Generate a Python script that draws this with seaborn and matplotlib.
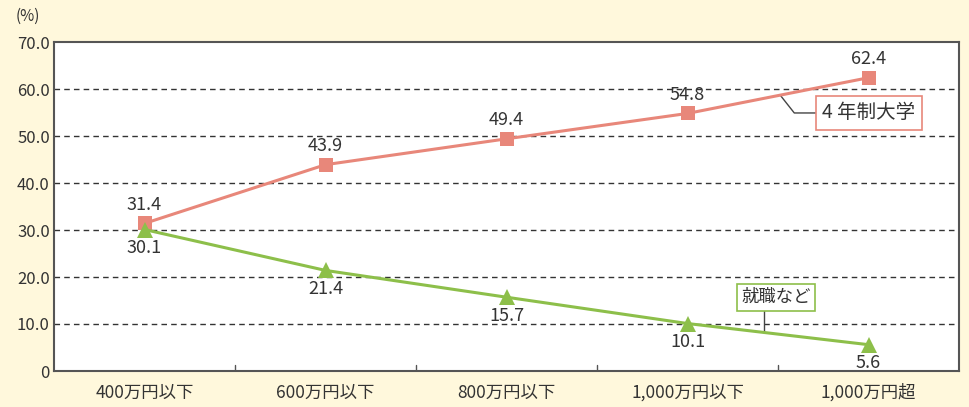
import matplotlib.pyplot as plt
import pandas as pd
import seaborn as sns

# data
categories = ["400万円以下", "600万円以下", "800万円以下", "1,000万円以下", "1,000万円超"]
univ = [31.4, 43.9, 49.4, 54.8, 62.4]
work = [30.1, 21.4, 15.7, 10.1, 5.6]

sns.set_style("white")
plt.rcParams['font.family'] = ['Noto Sans CJK JP', 'DejaVu Sans']

bg = "#fff8dc"
pink = "#e8877a"
green = "#8dbf4a"
spine = "#555555"

df = pd.DataFrame({"x": range(len(categories)), "univ": univ, "work": work})

fig = plt.figure(figsize=(9.69, 4.07), dpi=100, facecolor=bg)
ax = fig.add_axes([54 / 969, 1 - 371 / 407, 905 / 969, 329 / 407])
ax.set_facecolor("white")

sns.lineplot(data=df, x="x", y="univ", ax=ax, color=pink, linewidth=2.2,
             marker="s", markersize=10, markeredgewidth=0, zorder=3)
sns.lineplot(data=df, x="x", y="work", ax=ax, color=green, linewidth=2.2,
             marker="^", markersize=11, markeredgewidth=0, zorder=3)

ax.set_xlim(-0.5, 4.5)
ax.set_ylim(0, 70)
ax.set_yticks(range(0, 71, 10))
ax.set_yticklabels(["0"] + [f"{v:.1f}" for v in range(10, 71, 10)], fontsize=12, color="#333333")
ax.set_xticks(range(5))
ax.set_xticklabels(categories, fontsize=12.5, color="#333333")
ax.tick_params(axis="x", length=0, pad=9)
ax.tick_params(axis="y", length=0, pad=3)
ax.set_xlabel("")
ax.set_ylabel("")

# boundary ticks on the x axis
for b in [0.5, 1.5, 2.5, 3.5]:
    ax.plot([b, b], [0, 1.2], color=spine, linewidth=1, zorder=2)

for y in range(10, 70, 10):
    ax.axhline(y, color="#333333", linestyle=(0, (4, 3)), linewidth=1, zorder=1)

for s in ax.spines.values():
    s.set_color(spine)
    s.set_linewidth(1.5)

# value labels
for i, v in enumerate(univ):
    ax.annotate(f"{v:.1f}", (i, v), xytext=(0, 7), textcoords="offset points",
                ha="center", va="bottom", fontsize=13, color="#333333")
for i, v in enumerate(work):
    ax.annotate(f"{v:.1f}", (i, v), xytext=(0, -7), textcoords="offset points",
                ha="center", va="top", fontsize=13, color="#333333")

# callouts
ax.plot([3.51, 3.59, 3.73], [58.8, 54.9, 54.9], color="#444444", linewidth=1, zorder=2)
ax.text(3.745, 54.9, "4 年制大学", ha="left", va="center", fontsize=14, color="#333333",
        bbox=dict(boxstyle="square,pad=0.35", fc="white", ec=pink, lw=1.2), zorder=4)
ax.plot([3.42, 3.42], [8.2, 13.0], color="#444444", linewidth=1, zorder=2)
ax.text(3.49, 15.7, "就職など", ha="center", va="center", fontsize=12.5, color="#333333",
        bbox=dict(boxstyle="square,pad=0.25", fc="white", ec=green, lw=1.2), zorder=4)

fig.text(16 / 969, 1 - 16 / 407, "(%)", fontsize=11, color="#333333", ha="left", va="center")

fig.savefig("out.png", dpi=100, facecolor=bg)
